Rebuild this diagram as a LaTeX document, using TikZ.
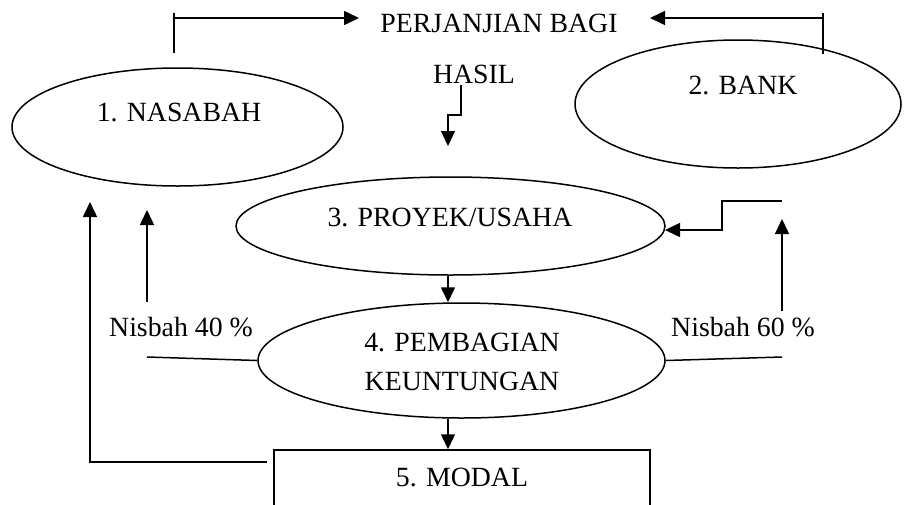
\documentclass[tikz,border=0pt]{standalone}
\usepackage{fontspec}
\setmainfont{Liberation Serif}
\usetikzlibrary{shapes.geometric,arrows.meta}
\begin{document}
\begin{tikzpicture}[x=1pt,y=-1pt,
  every node/.style={font=\fontsize{27.8}{39}\selectfont},
  oval/.style={draw,ellipse,line width=1.5pt,inner sep=0pt},
  lbl/.style={inner sep=0pt,align=center},
  ln/.style={line width=1.5pt},
  arr/.style={line width=1.5pt,-{Triangle[width=14pt,length=15pt]}}]
\useasboundingbox (0,0) rectangle (904,504);
% shapes
\node[oval,minimum width=331pt,minimum height=118pt] (n1) at (177.5,127) {};
\node[oval,minimum width=326pt,minimum height=128pt] (n2) at (738,104) {};
\node[oval,minimum width=429pt,minimum height=98pt] (n3) at (450.5,226) {};
\node[oval,minimum width=407pt,minimum height=115pt] (n4) at (461.5,360.5) {};
\node[draw,line width=1.5pt,minimum width=376pt,minimum height=70pt,inner sep=0pt] (n5) at (462,485) {};
% texts
\node[lbl] (t1) at (179,112) {1. NASABAH};
\node[lbl] (t2) at (743,85) {2. BANK};
\node[lbl] (t3) at (450,217) {3. PROYEK/USAHA};
\node[lbl] (t4) at (462,362) {4. PEMBAGIAN\\KEUNTUNGAN};
\node[lbl] (t5) at (462,477) {5. MODAL};
\node[lbl] (pb) at (499,23) {PERJANJIAN BAGI};
\node[lbl] (hs) at (474,74) {HASIL};
\node[lbl] (k40) at (181,327) {Nisbah 40 \%};
\node[lbl] (k60) at (743,327) {Nisbah 60 \%};
% free ends
\coordinate (a1) at (174,53);
\coordinate (a1t) at (174,13);
\coordinate (a1c) at (174,18);
\coordinate (a1e) at (359,18);
\coordinate (a2) at (823,54);
\coordinate (a2t) at (823,13);
\coordinate (a2c) at (823,18);
\coordinate (a2e) at (650,18);
\coordinate (h1) at (461,85);
\coordinate (h2) at (461,115);
\coordinate (h3) at (448,115);
\coordinate (h4) at (448,146);
\coordinate (r1) at (782,201);
\coordinate (r2) at (722,201);
\coordinate (r3) at (722,230);
\coordinate (r4) at (665,230);
\coordinate (u1) at (782,311);
\coordinate (u2) at (782,219);
\coordinate (l1) at (782,357);
\coordinate (m1) at (147,357);
\coordinate (m2) at (147,302);
\coordinate (m3) at (147,210);
\coordinate (b1) at (267,462);
\coordinate (b2) at (90,462);
\coordinate (b3) at (90,202);
% connectors
\draw[ln] (a1) -- (a1t);
\draw[arr] (a1c) -- (a1e);
\draw[ln] (a2) -- (a2t);
\draw[arr] (a2c) -- (a2e);
\draw[arr] (h1) -- (h2) -- (h3) -- (h4);
\draw[arr] (r1) -- (r2) -- (r3) -- (r4);
\draw[arr] (u1) -- (u2);
\draw[ln] (n4.east) -- (l1);
\draw[ln] (m1) -- (n4.west);
\draw[arr] (m2) -- (m3);
\draw[arr] (b1) -- (b2) -- (b3);
\draw[arr] (n3.south -| h4) -- (n4.north -| h4);
\draw[arr] (n4.south -| h4) -- (n5.north -| h4);
\end{tikzpicture}
\end{document}
